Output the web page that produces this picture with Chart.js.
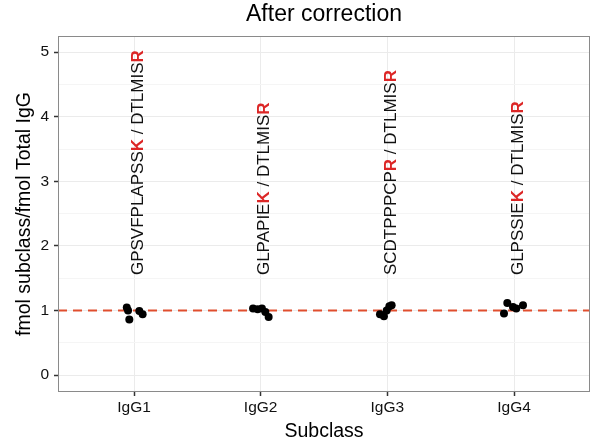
<!DOCTYPE html>
<html><head><meta charset="utf-8">
<script src="https://cdn.jsdelivr.net/npm/chart.js@4/dist/chart.umd.min.js"></script>
<style>html,body{margin:0;padding:0;background:#fff}#wrap{width:594px;height:446px}</style>
</head><body><div id="wrap"><canvas id="c" width="594" height="446"></canvas></div>
<script>
// ---- data ----
const categories = ['IgG1', 'IgG2', 'IgG3', 'IgG4'];
const igg1Values = [1.048, 1.000, 0.862, 0.995, 0.944];
const igg1Jitter = [-0.057, -0.047, -0.037, 0.042, 0.068];
const igg2Values = [1.033, 1.020, 1.033, 0.980, 0.902];
const igg2Jitter = [-0.060, -0.024, 0.010, 0.037, 0.063];
const igg3Values = [0.944, 0.913, 1.000, 1.068, 1.084];
const igg3Jitter = [-0.058, -0.027, -0.005, 0.016, 0.034];
const igg4Values = [0.955, 1.119, 1.057, 1.033, 1.084];
const igg4Jitter = [-0.079, -0.053, -0.008, 0.018, 0.071];
const yTicks = [0, 1, 2, 3, 4, 5];
const refLineValue = 1;
const labelYValue = 1.55;
// peptide labels: [text, highlighted]
const peptideLabels = [
  [['GPSVFPLAPSS', false], ['K', true], [' / DTLMIS', false], ['R', true]],
  [['GLPAPIE', false], ['K', true], [' / DTLMIS', false], ['R', true]],
  [['SCDTPPPCP', false], ['R', true], [' / DTLMIS', false], ['R', true]],
  [['GLPSSIE', false], ['K', true], [' / DTLMIS', false], ['R', true]]
];
const seriesValues = [igg1Values, igg2Values, igg3Values, igg4Values];
const seriesJitter = [igg1Jitter, igg2Jitter, igg3Jitter, igg4Jitter];

// ---- view ----
const X_MIN = -0.6, X_MAX = 3.6, Y_MIN = -0.26, Y_MAX = 5.25;
const FONT = "'Liberation Sans', Arial, Helvetica, sans-serif";
const RED_LINE = '#E04E2E';
const RED_TEXT = '#DC2626';

const yGridValues = [];
yTicks.forEach((t, i) => {
  yGridValues.push(t);
  if (i < yTicks.length - 1) yGridValues.push((t + yTicks[i + 1]) / 2);
});

const pointSets = categories.map((cat, i) => ({
  label: cat,
  data: seriesValues[i].map((v, j) => ({ x: i + seriesJitter[i][j], y: v })),
  backgroundColor: '#000',
  borderColor: '#000',
  pointRadius: 4,
  pointHoverRadius: 4,
  borderWidth: 0,
  showLine: false,
  order: 0
}));

const refLine = {
  type: 'line',
  label: 'ref',
  data: [{ x: X_MIN, y: refLineValue }, { x: X_MAX, y: refLineValue }],
  borderColor: RED_LINE,
  borderWidth: 2,
  borderDash: [9, 6],
  pointRadius: 0,
  fill: false,
  order: 1
};

const panelBorder = {
  id: 'panelBorder',
  afterDraw(chart) {
    const a = chart.chartArea, ctx = chart.ctx;
    ctx.save();
    ctx.strokeStyle = '#8a8a8a';
    ctx.lineWidth = 1;
    ctx.strokeRect(Math.round(a.left) + 0.5, Math.round(a.top) + 0.5,
      Math.round(a.right - a.left) - 1, Math.round(a.bottom - a.top) - 1);
    ctx.restore();
  }
};

const peptideText = {
  id: 'peptideText',
  afterDatasetsDraw(chart) {
    const ctx = chart.ctx, xs = chart.scales.x, ys = chart.scales.y;
    ctx.save();
    peptideLabels.forEach((parts, i) => {
      const px = xs.getPixelForValue(i) + 4;
      const py = ys.getPixelForValue(labelYValue);
      ctx.save();
      ctx.translate(px, py);
      ctx.rotate(-Math.PI / 2);
      ctx.textBaseline = 'middle';
      ctx.textAlign = 'left';
      let cx = 0;
      parts.forEach(([txt, hi]) => {
        ctx.font = (hi ? 'bold ' : '') + '17px ' + FONT;
        ctx.fillStyle = hi ? RED_TEXT : '#111';
        ctx.fillText(txt, cx, 0);
        cx += ctx.measureText(txt).width;
      });
      ctx.restore();
    });
    ctx.restore();
  }
};

new Chart(document.getElementById('c'), {
  type: 'scatter',
  data: { datasets: [...pointSets, refLine] },
  options: {
    responsive: false,
    animation: false,
    devicePixelRatio: 1,
    layout: { padding: { top: 0, right: 3, left: 0, bottom: 0 } },
    plugins: {
      legend: { display: false },
      tooltip: { enabled: false },
      title: {
        display: true,
        text: 'After correction',
        fullSize: false,
        color: '#000',
        font: { family: FONT, size: 23, weight: 'normal' },
        padding: { top: 1, bottom: 7.4 }
      }
    },
    scales: {
      x: {
        type: 'linear',
        min: X_MIN, max: X_MAX,
        afterBuildTicks: s => { s.ticks = categories.map((c, i) => ({ value: i })); },
        afterFit: s => { s.height = 54; },
        ticks: {
          callback: v => categories[Math.round(v)],
          color: '#111',
          font: { family: FONT, size: 15.5 },
          padding: 2,
          maxRotation: 0,
          autoSkip: false
        },
        grid: { color: '#ebebeb', lineWidth: 1, tickColor: '#333', tickLength: 4, tickWidth: 1.5 },
        border: { display: false },
        title: {
          display: true, text: 'Subclass', color: '#000',
          font: { family: FONT, size: 19.5 }, padding: { top: 0, bottom: 3 }
        }
      },
      y: {
        type: 'linear',
        min: Y_MIN, max: Y_MAX,
        afterBuildTicks: s => { s.ticks = yGridValues.map(v => ({ value: v })); },
        afterFit: s => { s.width = 58; },
        ticks: {
          callback: v => (yTicks.includes(v) ? String(v) : ''),
          color: '#111',
          font: { family: FONT, size: 15.5 },
          padding: 5,
          autoSkip: false
        },
        grid: {
          color: c => (yTicks.includes(c.tick.value) ? '#ebebeb' : '#f5f5f5'),
          lineWidth: 1,
          tickColor: c => (yTicks.includes(c.tick.value) ? '#333' : 'rgba(0,0,0,0)'),
          tickLength: 4,
          tickWidth: 1.5
        },
        border: { display: false },
        title: {
          display: true, text: 'fmol subclass/fmol Total IgG', color: '#000',
          font: { family: FONT, size: 19.5 }, padding: { top: 13, bottom: 0 }
        }
      }
    }
  },
  plugins: [panelBorder, peptideText]
});
</script></body></html>
